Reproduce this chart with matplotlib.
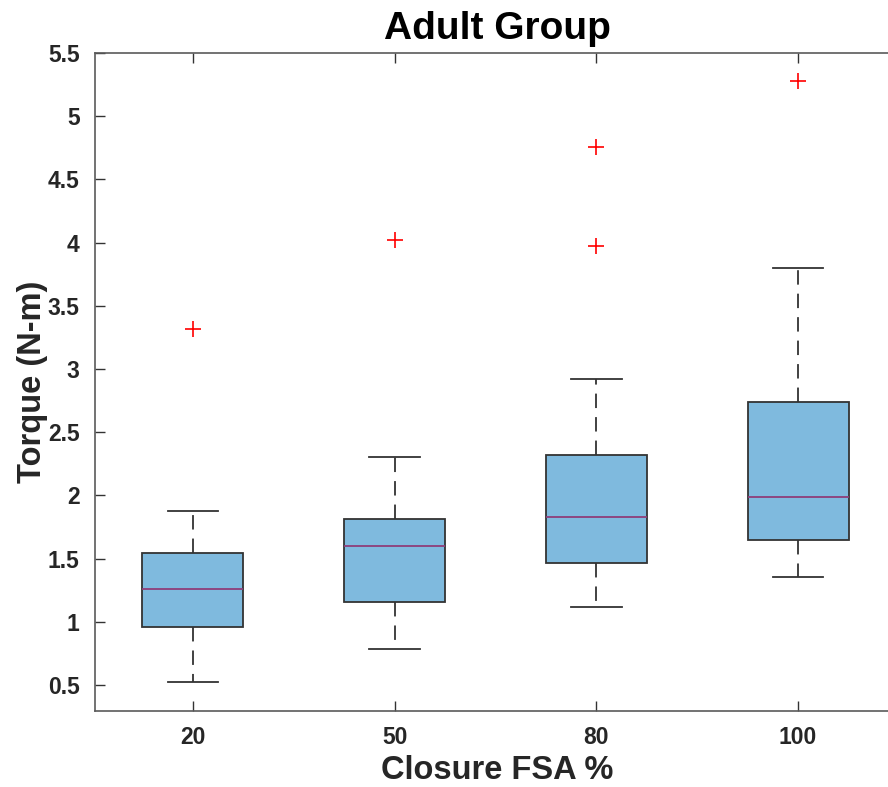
import matplotlib
matplotlib.use("Agg")
import matplotlib.pyplot as plt

plt.rcParams["font.family"] = ["Liberation Sans", "DejaVu Sans"]

# Box statistics (Torque, N-m)
groups = ["20", "50", "80", "100"]
whisker_low = [0.52, 0.785, 1.117, 1.355]
q1 = [0.96, 1.157, 1.465, 1.647]
median = [1.26, 1.60, 1.83, 1.99]
q3 = [1.544, 1.813, 2.32, 2.74]
whisker_high = [1.877, 2.304, 2.92, 3.80]
outliers = [[3.32], [4.02], [4.76, 3.97], [5.28]]

stats = []
for i, name in enumerate(groups):
    stats.append(dict(label=name, whislo=whisker_low[i], q1=q1[i], med=median[i],
                      q3=q3[i], whishi=whisker_high[i], fliers=outliers[i]))

fig = plt.figure(figsize=(8.88, 7.87), dpi=100)
# right edge of the axes lies outside the canvas, as in the reference
ax = fig.add_axes([95 / 888, 1 - 711 / 787, (899 - 95) / 888, (711 - 53) / 787])

edge = "#333333"
ax.bxp(stats, positions=[1, 2, 3, 4], widths=0.5, patch_artist=True,
       boxprops=dict(facecolor="#7FBADE", edgecolor=edge, linewidth=1.3),
       medianprops=dict(color="#8E3D7A", linewidth=1.3),
       whiskerprops=dict(color=edge, linewidth=1.3, linestyle=(0, (8, 5))),
       capprops=dict(color=edge, linewidth=1.3), capwidths=0.25,
       flierprops=dict(marker="+", markeredgecolor="red", markersize=11,
                       markeredgewidth=1.2, linestyle="none"))

ax.set_xlim(0.515, 4.5)
ax.set_ylim(0.294, 5.5)
ax.set_yticks([0.5, 1, 1.5, 2, 2.5, 3, 3.5, 4, 4.5, 5, 5.5])
ax.set_yticklabels(["0.5", "1", "1.5", "2", "2.5", "3", "3.5", "4", "4.5", "5", "5.5"])
ax.set_xticks([1, 2, 3, 4])
ax.set_xticklabels(groups)

for s in ax.spines.values():
    s.set_color("#5a5a5a")
    s.set_linewidth(1.2)
ax.spines["right"].set_visible(False)
ax.tick_params(direction="in", length=7, width=1, color="#333333",
               labelsize=16.5, labelcolor="#262626", pad=11, top=True)
for lab in ax.get_xticklabels() + ax.get_yticklabels():
    lab.set_fontweight("bold")

ax.set_title("Adult Group", fontsize=28, fontweight="bold", color="black", pad=10)
ax.set_xlabel("Closure FSA %", fontsize=23.5, fontweight="bold", color="#262626", labelpad=4)
ax.set_ylabel("Torque (N-m)", fontsize=23.5, fontweight="bold", color="#262626", labelpad=0)

fig.savefig("out.png", dpi=100)
plt.close(fig)
